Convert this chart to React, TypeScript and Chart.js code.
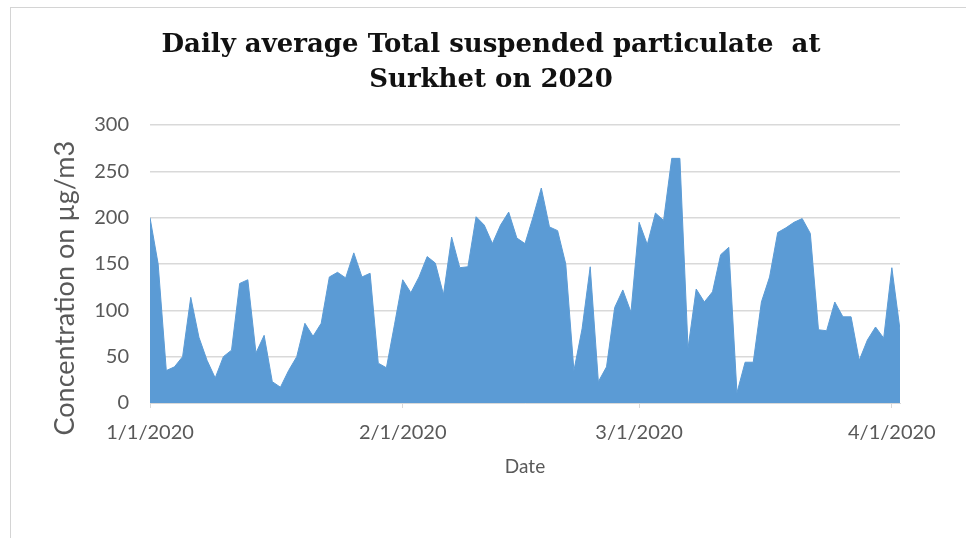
import React, { useEffect, useRef } from "react";
import { Chart, registerables } from "chart.js";

Chart.register(...registerables);

const titleLines = ["Daily average Total suspended particulate  at", "Surkhet on 2020"];
const yAxisTitle = "Concentration on µg/m3";
const xAxisTitle = "Date";

// Day offsets from 1/1/2020 at which the axis shows date labels
const tickDays = [0, 31, 60, 91];
const tickLabels = ["1/1/2020", "2/1/2020", "3/1/2020", "4/1/2020"];

// Daily average TSP (µg/m3), 1/1/2020 .. 4/2/2020
const tspValues = [
  200, 150, 35, 39, 50, 114, 71, 46, 27, 50,
  57, 129, 133, 54, 73, 23, 17, 35, 50, 86,
  72, 86, 136, 141, 135, 162, 136, 140, 43, 38,
  85, 133, 119, 136, 158, 151, 117, 179, 146, 147,
  201, 192, 172, 192, 206, 178, 172, 201, 232, 190,
  186, 150, 35, 80, 147, 23, 39, 103, 122, 98,
  195, 171, 205, 197, 264, 264, 59, 123, 109, 120,
  160, 168, 11, 44, 44, 109, 136, 184, 189, 195,
  199, 183, 79, 78, 109, 93, 93, 46, 68, 82,
  70, 146, 79,
];

const yTicks = { min: 0, max: 300, step: 50 };

export default function App() {
  const canvasRef = useRef<HTMLCanvasElement | null>(null);

  useEffect(() => {
    const canvas = canvasRef.current;
    if (!canvas) return;
    const gray = "#595959";
    const grid = "#d9d9d9";
    const chart = new Chart(canvas, {
      type: "line",
      data: {
        datasets: [
          {
            data: tspValues.map((v, i) => ({ x: i, y: v })),
            fill: "origin",
            backgroundColor: "#5b9bd5",
            borderColor: "#5b9bd5",
            borderWidth: 1,
            pointRadius: 0,
            tension: 0,
          },
        ],
      },
      options: {
        responsive: false,
        animation: false,
        devicePixelRatio: 1,
        layout: { padding: { left: 40, right: 24, top: 0, bottom: 55 } },
        plugins: {
          legend: { display: false },
          tooltip: { enabled: false },
          title: {
            display: true,
            text: titleLines,
            color: "#111111",
            font: { family: "'DejaVu Serif', serif", size: 26, weight: "bold", lineHeight: "35px" },
            padding: { top: 27.5, bottom: 27.5 },
          },
        },
        scales: {
          x: {
            type: "linear",
            min: 0,
            max: tspValues.length - 1,
            afterBuildTicks: (s: any) => {
              s.ticks = tickDays.map((v) => ({ value: v }));
            },
            afterFit: (s: any) => {
              s.height = 80;
            },
            ticks: {
              autoSkip: false,
              maxRotation: 0,
              padding: 13,
              color: gray,
              font: { family: "Lato", size: 20 },
              callback: (v: any) => {
                const idx = tickDays.indexOf(Number(v));
                return idx >= 0 ? tickLabels[idx] : "";
              },
            },
            grid: { display: true, drawOnChartArea: false, tickLength: 5, color: grid },
            border: { display: true, color: grid, width: 1 },
            title: {
              display: true,
              text: xAxisTitle,
              color: gray,
              font: { family: "Lato", size: 19 },
              padding: { top: 0, bottom: 5 },
            },
          },
          y: {
            min: yTicks.min,
            max: yTicks.max,
            afterFit: (s: any) => {
              s.width = 110;
            },
            ticks: {
              stepSize: yTicks.step,
              padding: 21,
              color: gray,
              font: { family: "Lato", size: 20 },
            },
            grid: { color: grid, lineWidth: 1.5, drawTicks: false },
            border: { display: false },
            title: {
              display: true,
              text: yAxisTitle + "       ",
              color: gray,
              font: { family: "Lato", size: 27 },
              padding: { top: 9, bottom: 0 },
            },
          },
          yRight: {
            type: "linear",
            position: "right",
            display: true,
            afterFit: (s: any) => {
              s.width = 42;
            },
            ticks: { display: false },
            grid: { display: false },
            border: { display: false },
          },
        },
      },
    } as any);
    return () => chart.destroy();
  }, []);

  return (
    <div style={{ position: "fixed", left: 0, top: 0, width: 966, height: 538, background: "#fff", overflow: "hidden" }}>
      <div
        style={{
          position: "absolute",
          left: 10,
          top: 7,
          width: 970,
          height: 540,
          borderLeft: "1px solid #d4d4d4",
          borderTop: "1px solid #d4d4d4",
        }}
      />
      <canvas ref={canvasRef} width={966} height={538} style={{ position: "absolute", left: 0, top: 0, width: 966, height: 538 }} />
    </div>
  );
}
